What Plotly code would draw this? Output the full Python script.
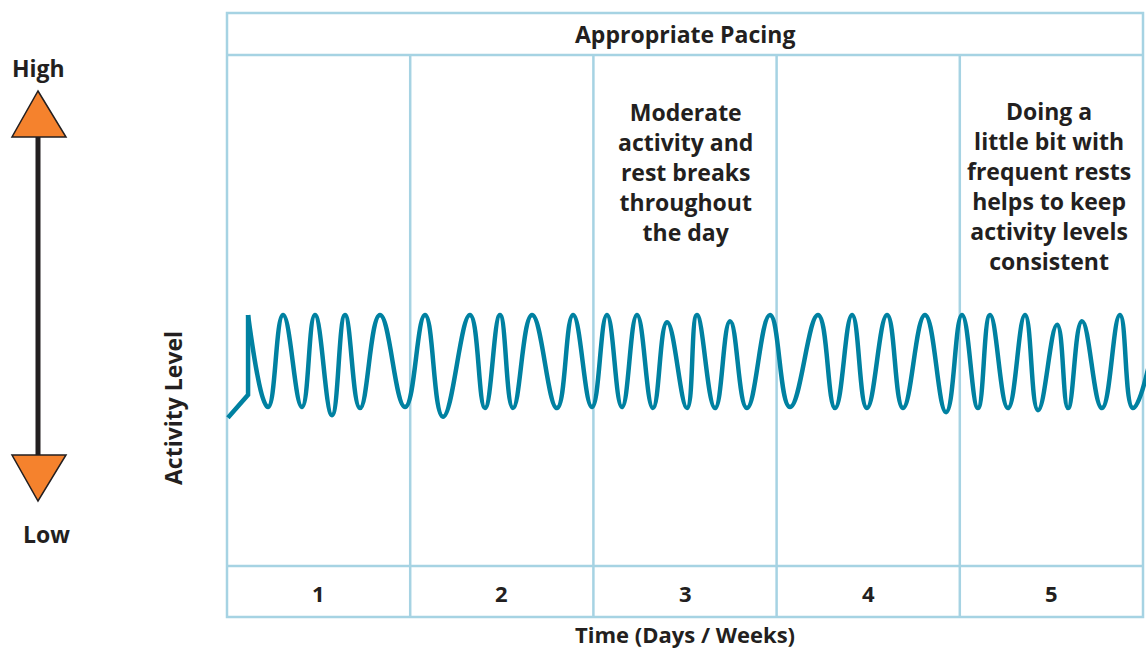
import plotly.graph_objects as go

# ---- data (time in days/weeks columns, activity level 0-10 scale) ----
lead_in_time = [0.005, 0.115, 0.115]
lead_in_level = [2.90, 3.35, 4.91]

wave_time = [0.115, 0.224, 0.306, 0.409, 0.480, 0.573, 0.644, 0.726, 0.835, 0.972,
             1.081, 1.179, 1.326, 1.408, 1.490, 1.561, 1.665, 1.801, 1.889, 1.992,
             2.074, 2.156, 2.238, 2.325, 2.402, 2.511, 2.565, 2.664, 2.746, 2.838,
             2.964, 3.073, 3.226, 3.319, 3.412, 3.493, 3.603, 3.690, 3.810, 3.925,
             4.012, 4.099, 4.165, 4.263, 4.356, 4.427, 4.531, 4.591, 4.667, 4.776,
             4.874, 4.945, 5.090]
wave_level = [4.91, 3.11, 4.91, 3.11, 4.91, 2.95, 4.91, 3.09, 4.91, 3.11,
              4.91, 2.92, 4.91, 3.09, 4.91, 3.09, 4.91, 3.09, 4.91, 3.11,
              4.91, 3.11, 4.91, 3.09, 4.77, 3.09, 4.91, 3.09, 4.79, 3.09,
              4.91, 3.11, 4.91, 3.09, 4.91, 3.09, 4.91, 3.09, 4.91, 3.01,
              4.91, 3.09, 4.91, 3.09, 4.91, 3.05, 4.72, 3.09, 4.79, 3.09,
              4.91, 3.09, 4.91]

period_labels = ["1", "2", "3", "4", "5"]
header_text = "Appropriate Pacing"
note_period3 = "Moderate<br>activity and<br>rest breaks<br>throughout<br>the day"
note_period5 = "Doing a<br>little bit with<br>frequent rests<br>helps to keep<br>activity levels<br>consistent"
x_title = "Time (Days / Weeks)"
y_title = "Activity Level"

# ---- styling ----
W, H = 1146, 649
WAVE = "#0081A1"
GRID = "#A6D3E3"
INK = "#231F20"
ORANGE = "#F5822D"
FONT = "Open Sans"

fig = go.Figure()
fig.add_trace(go.Scatter(x=lead_in_time, y=lead_in_level, mode="lines",
                         line=dict(color=WAVE, width=4.5), hoverinfo="skip"))
fig.add_trace(go.Scatter(x=wave_time, y=wave_level, mode="lines",
                         line=dict(color=WAVE, width=4.5, shape="spline", smoothing=1.3),
                         hoverinfo="skip"))

def px(x):
    return x / W

def py(y):
    return 1 - y / H

shapes = []
# table frame
body_top, body_bottom, frame_top, frame_bottom = 10.0, 0.0, 10.82, -1.0
shapes.append(dict(type="rect", xref="x", yref="y", x0=0, x1=5, y0=frame_bottom, y1=frame_top,
                   line=dict(color=GRID, width=2.5), layer="below"))
for yy in (body_top, body_bottom):
    shapes.append(dict(type="line", xref="x", yref="y", x0=0, x1=5, y0=yy, y1=yy,
                       line=dict(color=GRID, width=2.5), layer="below"))
for xx in range(1, 5):
    shapes.append(dict(type="line", xref="x", yref="y", x0=xx, x1=xx, y0=frame_bottom, y1=body_top,
                       line=dict(color=GRID, width=2.5), layer="below"))

# High/Low arrow
shapes.append(dict(type="line", xref="paper", yref="paper", x0=px(38), x1=px(38),
                   y0=py(135), y1=py(457), line=dict(color=INK, width=5)))
shapes.append(dict(type="path", xref="paper", yref="paper",
                   path=f"M {px(38)},{py(91)} L {px(66)},{py(137)} L {px(12)},{py(137)} Z",
                   fillcolor=ORANGE, line=dict(color=INK, width=1.5)))
shapes.append(dict(type="path", xref="paper", yref="paper",
                   path=f"M {px(12)},{py(455)} L {px(66)},{py(455)} L {px(38)},{py(501)} Z",
                   fillcolor=ORANGE, line=dict(color=INK, width=1.5)))

annotations = []
def txt(text, x, y, size, xref="x", yref="y", angle=0):
    annotations.append(dict(text=f"<b>{text}</b>", x=x, y=y, xref=xref, yref=yref,
                            showarrow=False, textangle=angle, xanchor="center", yanchor="middle",
                            font=dict(family=FONT, size=size, color=INK), align="center"))

txt(header_text, 2.5, 10.41, 23)
for i, lab in enumerate(period_labels):
    txt(lab, i + 0.5, -0.53, 22)
txt(note_period3, 2.505, 7.71, 23)
txt(note_period5, 4.487, 7.43, 23)
txt(x_title, 2.5, -1.33, 22)
txt(y_title, px(173), py(408), 23, xref="paper", yref="paper", angle=-90)
txt("High", px(38), py(68), 23, xref="paper", yref="paper")
txt("Low", px(46), py(534), 23, xref="paper", yref="paper")

x0 = -227 / 183.2
x1 = (1146 - 227) / 183.2
y0 = (566 - 649) / 51.1
y1 = 566 / 51.1

fig.update_layout(
    width=W, height=H, margin=dict(l=0, r=0, t=0, b=0),
    paper_bgcolor="white", plot_bgcolor="white", showlegend=False,
    xaxis=dict(range=[x0, x1], visible=False, fixedrange=True),
    yaxis=dict(range=[y0, y1], visible=False, fixedrange=True),
    shapes=shapes, annotations=annotations,
)

fig.write_html("out.html", config={"displayModeBar": False},
               post_script="document.body.style.margin='0';document.body.style.padding='0';document.body.style.overflow='hidden';")
